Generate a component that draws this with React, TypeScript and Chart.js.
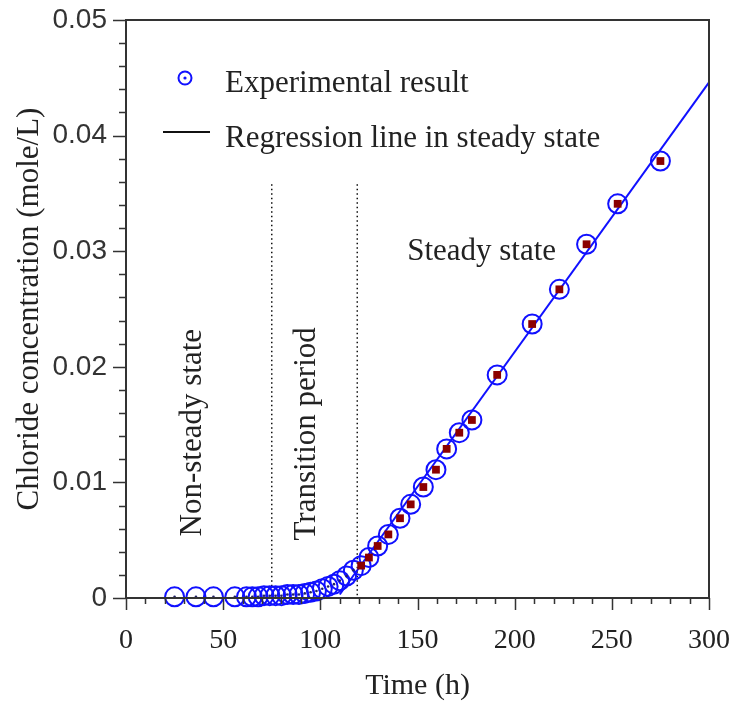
import { useEffect, useRef } from 'react';
import { Chart, registerables } from 'chart.js';

Chart.register(...registerables);

// ---- data ----
const timeH = [25, 36, 45, 56, 62, 65, 68, 71, 74, 77, 80, 83, 86, 89, 92, 95, 98, 101, 104, 107, 110, 113.5, 117, 121, 125, 129.5, 135, 141, 146.5, 153, 159.5, 165, 171.5, 178, 191, 209, 223, 237, 253, 275];
const chlorideC = [0.0001, 0.0001, 0.0001, 0.0001, 0.0001, 0.0001, 0.0001, 0.0002, 0.0002, 0.0002, 0.0002, 0.0003, 0.0003, 0.0003, 0.0004, 0.0005, 0.0006, 0.0008, 0.001, 0.0012, 0.0015, 0.0019, 0.0024, 0.0028, 0.0035, 0.0045, 0.0055, 0.0069, 0.0081, 0.0096, 0.0111, 0.0129, 0.0143, 0.0154, 0.0193, 0.0237, 0.0267, 0.0306, 0.0341, 0.0378];
const regressionT = [110, 300];
const regressionC = [0.0003, 0.0446];
const boundaryT = [75, 119];
const boundaryTopC = 0.0358;
const steadyStartT = 120;
const xTickLabels = ['0', '50', '100', '150', '200', '250', '300'];
const yTickLabels = ['0', '0.01', '0.02', '0.03', '0.04', '0.05'];
const xMinorStep = 10;
const yMinorStep = 0.002;

const SERIF = "'Liberation Serif', 'Times New Roman', serif";
const SANS = "'Liberation Sans', Arial, sans-serif";
const BLUE = '#1010ff';
const DARKRED = '#8b0000';
const INK = '#222';

const decorPlugin = {
  id: 'decor',
  afterDatasetsDraw(chart: any) {
    const { ctx, chartArea: a, scales } = chart;
    const xs = scales.x;
    const ys = scales.y;
    ctx.save();
    // frame
    ctx.strokeStyle = '#333';
    ctx.lineWidth = 2;
    ctx.strokeRect(a.left, a.top, a.right - a.left, a.bottom - a.top);
    // ticks
    ctx.lineWidth = 1.5;
    ctx.beginPath();
    for (let t = 0; t <= 300 + 1e-9; t += xMinorStep) {
      const px = Math.round(xs.getPixelForValue(t)) + 0.5;
      const major = Math.abs(t % 50) < 1e-6;
      ctx.moveTo(px, a.bottom);
      ctx.lineTo(px, a.bottom + (major ? 12 : 6));
    }
    for (let i = 0; i <= 25; i++) {
      const c = i * yMinorStep;
      const py = Math.round(ys.getPixelForValue(c)) + 0.5;
      const major = i % 5 === 0;
      ctx.moveTo(a.left, py);
      ctx.lineTo(a.left - (major ? 13 : 7), py);
    }
    ctx.stroke();

    // annotations
    ctx.fillStyle = INK;
    ctx.font = `31px ${SERIF}`;
    ctx.textAlign = 'center';
    ctx.textBaseline = 'middle';
    const notes = [
      { text: 'Steady state', t: 183, c: 0.0299, rot: 0 },
      { text: 'Non-steady state', t: 34.5, c: 0.0143, rot: -Math.PI / 2 },
      { text: 'Transition period', t: 93, c: 0.0142, rot: -Math.PI / 2 },
    ];
    for (const n of notes) {
      ctx.save();
      ctx.translate(xs.getPixelForValue(n.t), ys.getPixelForValue(n.c));
      ctx.rotate(n.rot);
      ctx.fillText(n.text, 0, 0);
      ctx.restore();
    }

    // legend
    ctx.textAlign = 'left';
    ctx.textBaseline = 'alphabetic';
    ctx.strokeStyle = BLUE;
    ctx.lineWidth = 2;
    ctx.beginPath();
    ctx.arc(185, 78, 6.5, 0, Math.PI * 2);
    ctx.stroke();
    ctx.fillStyle = BLUE;
    ctx.beginPath();
    ctx.arc(185, 78, 1.6, 0, Math.PI * 2);
    ctx.fill();
    ctx.fillStyle = INK;
    ctx.fillText('Experimental result', 225, 92);
    ctx.strokeStyle = '#111';
    ctx.lineWidth = 2;
    ctx.beginPath();
    ctx.moveTo(163, 132);
    ctx.lineTo(210, 132);
    ctx.stroke();
    ctx.fillText('Regression line in steady state', 225, 147);
    ctx.restore();
  },
};

export default function App() {
  const ref = useRef<HTMLCanvasElement | null>(null);
  useEffect(() => {
    document.body.style.margin = '0';
    const canvas = ref.current;
    if (!canvas) return;
    const points = timeH.map((t, i) => ({ x: t, y: chlorideC[i] }));
    const regression = regressionT.map((t, i) => ({ x: t, y: regressionC[i] }));
    const boundaryDatasets = boundaryT.map((t) => ({
      type: 'line' as const,
      data: [{ x: t, y: boundaryTopC }, { x: t, y: 0 }],
      borderColor: '#111',
      borderWidth: 1.5,
      borderDash: [1.5, 3],
      pointRadius: 0,
      showLine: true,
      fill: false,
      clip: false as any,
      order: 5,
    }));
    const chart = new Chart(canvas, {
      type: 'scatter',
      data: {
        datasets: [
          ...boundaryDatasets,
          {
            type: 'scatter',
            data: points,
            pointStyle: 'circle',
            pointRadius: 9.5,
            pointBorderWidth: 2,
            pointBorderColor: BLUE,
            pointBackgroundColor: 'rgba(0,0,0,0)',
            borderColor: BLUE,
            backgroundColor: 'rgba(0,0,0,0)',
            clip: false as any,
            order: 4,
          },
          {
            type: 'line',
            data: regression,
            borderColor: BLUE,
            borderWidth: 2,
            pointRadius: 0,
            showLine: true,
            fill: false,
            clip: false as any,
            order: 3,
          },
          {
            type: 'scatter',
            data: points,
            pointStyle: (ctx: any) => (ctx.raw && ctx.raw.x >= steadyStartT ? 'rect' : 'circle'),
            pointRadius: (ctx: any) => (ctx.raw && ctx.raw.x >= steadyStartT ? 5.5 : 1.3),
            pointBorderWidth: 0,
            pointBackgroundColor: (ctx: any) => (ctx.raw && ctx.raw.x >= steadyStartT ? DARKRED : '#222266'),
            borderColor: 'rgba(0,0,0,0)',
            clip: false as any,
            order: 1,
          },
        ] as any,
      },
      options: {
        animation: false,
        responsive: false,
        devicePixelRatio: 1,
        events: [],
        layout: { padding: { top: 20, right: 25, left: 0, bottom: 0 } },
        plugins: { legend: { display: false }, tooltip: { enabled: false } },
        scales: {
          x: {
            type: 'linear',
            min: 0,
            max: 300,
            position: 'bottom',
            grid: { display: false, drawTicks: false },
            border: { display: false },
            ticks: {
              stepSize: 50,
              autoSkip: false,
              maxRotation: 0,
              padding: 29,
              color: INK,
              font: { family: SERIF, size: 28, lineHeight: 1 },
              callback: (_v: any, i: number) => xTickLabels[i] ?? '',
            },
            title: {
              display: true,
              text: 'Time (h)',
              color: INK,
              font: { family: SERIF, size: 30, lineHeight: 1 },
              padding: { top: 0, bottom: 2 },
            },
            afterFit: (s: any) => {
              s.height = 105;
              s.paddingLeft = 0;
              s.paddingRight = 0;
            },
          },
          y: {
            type: 'linear',
            min: 0,
            max: 0.05,
            grid: { display: false, drawTicks: false },
            border: { display: false },
            ticks: {
              stepSize: 0.01,
              autoSkip: false,
              padding: 19,
              color: '#333',
              font: { family: SANS, size: 28, lineHeight: 1 },
              callback: (_v: any, i: number) => yTickLabels[i] ?? '',
            },
            title: {
              display: true,
              text: 'Chloride concentration (mole/L)',
              color: INK,
              font: { family: SERIF, size: 31, lineHeight: 1 },
              padding: { top: 14, bottom: 0 },
            },
            afterFit: (s: any) => {
              s.width = 126;
              s.paddingTop = 0;
              s.paddingBottom = 0;
            },
          },
        },
      } as any,
      plugins: [decorPlugin],
    });
    return () => chart.destroy();
  }, []);
  return <canvas ref={ref} width={734} height={703} style={{ display: 'block' }} />;
}
